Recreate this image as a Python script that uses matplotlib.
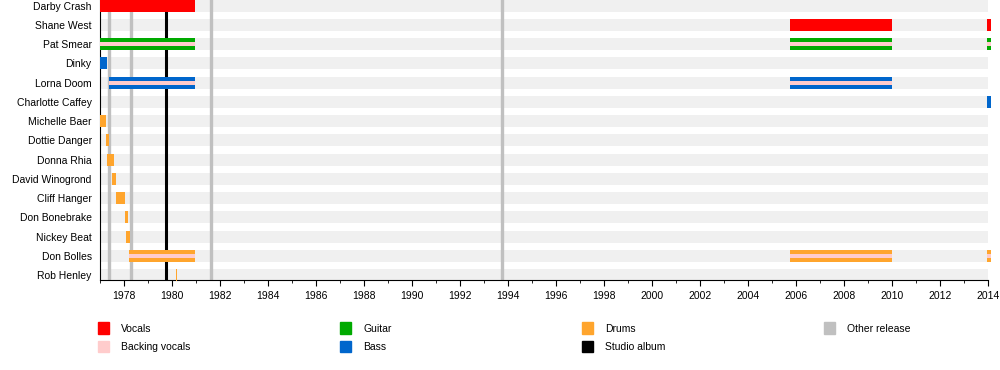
import matplotlib.pyplot as plt
from matplotlib.patches import Patch

plt.rcParams["font.family"] = ["Liberation Sans", "DejaVu Sans"]

VOCALS = "#ff0000"
BACKING = "#ffcccc"
GUITAR = "#00aa00"
BASS = "#0066cc"
DRUMS = "#ffa52d"
OTHER = "#c0c0c0"
ALBUM = "#000000"

members = ["Darby Crash", "Shane West", "Pat Smear", "Dinky", "Lorna Doom",
           "Charlotte Caffey", "Michelle Baer", "Dottie Danger", "Donna Rhia",
           "David Winogrond", "Cliff Hanger", "Don Bonebrake", "Nickey Beat",
           "Don Bolles", "Rob Henley"]

# (member, start, end, role, backing vocals)
spans = [
    ("Darby Crash", 1977.0, 1980.95, "vocals", False),
    ("Shane West", 2005.75, 2010.0, "vocals", False),
    ("Shane West", 2013.95, 2014.12, "vocals", False),
    ("Pat Smear", 1977.0, 1980.95, "guitar", True),
    ("Pat Smear", 2005.75, 2010.0, "guitar", True),
    ("Pat Smear", 2013.95, 2014.12, "guitar", True),
    ("Dinky", 1977.0, 1977.3, "bass", False),
    ("Lorna Doom", 1977.37, 1980.95, "bass", True),
    ("Lorna Doom", 2005.75, 2010.0, "bass", True),
    ("Charlotte Caffey", 2013.95, 2014.12, "bass", False),
    ("Michelle Baer", 1977.0, 1977.25, "drums", False),
    ("Dottie Danger", 1977.25, 1977.38, "drums", False),
    ("Donna Rhia", 1977.3, 1977.6, "drums", False),
    ("David Winogrond", 1977.5, 1977.68, "drums", False),
    ("Cliff Hanger", 1977.68, 1978.05, "drums", False),
    ("Don Bonebrake", 1978.06, 1978.15, "drums", False),
    ("Nickey Beat", 1978.1, 1978.24, "drums", False),
    ("Don Bolles", 1978.22, 1980.95, "drums", True),
    ("Don Bolles", 2005.75, 2010.0, "drums", True),
    ("Don Bolles", 2013.95, 2014.12, "drums", True),
    ("Rob Henley", 1980.17, 1980.22, "drums", False),
]

other_releases = [1977.37, 1978.29, 1981.62, 1993.73]
studio_albums = [1979.75]

role_colors = {"vocals": VOCALS, "guitar": GUITAR, "bass": BASS, "drums": DRUMS}

fig = plt.figure(figsize=(10, 3.7), dpi=100)
ax = fig.add_axes([0.1, 0.243, 0.888, 0.757])

bar_h = 0.62
row = {name: i for i, name in enumerate(members)}

for i in range(len(members)):
    ax.barh(i, 2014 - 1977, left=1977, height=bar_h, color="#f0f0f0", zorder=1)

for x in other_releases:
    ax.axvline(x, color=OTHER, lw=2.4, zorder=2)
for x in studio_albums:
    ax.axvline(x, color=ALBUM, lw=2.2, zorder=2)

for name, start, end, role, backing in spans:
    y = row[name]
    ax.barh(y, end - start, left=start, height=bar_h,
            color=role_colors[role], zorder=3, linewidth=0, clip_on=False)
    if backing:
        ax.barh(y, end - start, left=start, height=bar_h / 3,
                color=BACKING, zorder=4, linewidth=0, clip_on=False)

ax.set_xlim(1977, 2014)
ax.set_ylim(14.26, -0.29)
ax.set_yticks(range(len(members)))
ax.set_yticklabels(members, fontsize=7.5)
ax.tick_params(axis="y", length=0, pad=6)
ax.set_xticks(range(1978, 2015, 2))
ax.set_xticks(range(1977, 2015), minor=True)
ax.tick_params(axis="x", labelsize=7.5, length=4, direction="out")
ax.tick_params(axis="x", which="minor", length=2)
for side in ["top", "right"]:
    ax.spines[side].set_visible(False)

legend_cols = [
    [("Vocals", VOCALS), ("Backing vocals", BACKING)],
    [("Guitar", GUITAR), ("Bass", BASS)],
    [("Drums", DRUMS), ("Studio album", ALBUM)],
    [("Other release", OTHER)],
]
for k, col in enumerate(legend_cols):
    handles = [Patch(color=c, label=lab) for lab, c in col]
    fig.legend(handles=handles, loc="upper left",
               bbox_to_anchor=(0.094 + k * 0.242, 0.14),
               frameon=False, fontsize=7.5, handlelength=1.0, handleheight=1.3,
               handletextpad=1.2, labelspacing=0.7, borderaxespad=0)

fig.savefig("out.png", dpi=100)
